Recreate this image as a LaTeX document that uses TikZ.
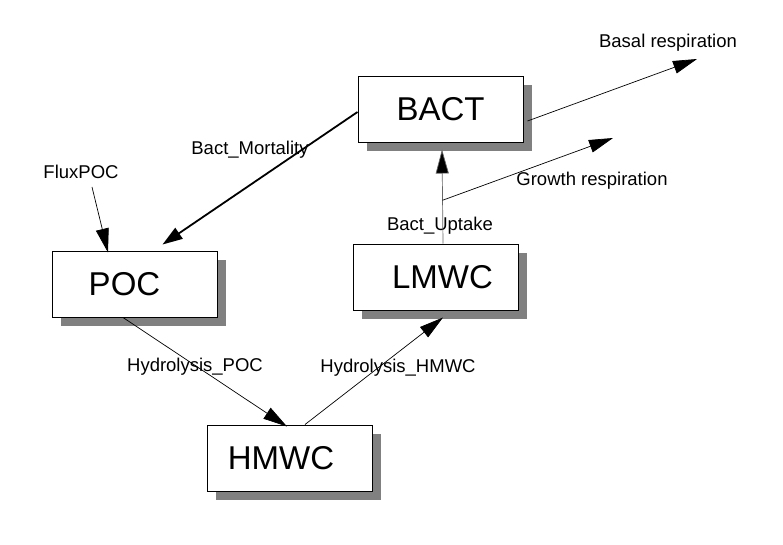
\documentclass[tikz,border=0pt]{standalone}
\usepackage{fontspec}
\setmainfont{Liberation Sans}
\usetikzlibrary{arrows.meta,shadows}
\begin{document}
\begin{tikzpicture}[x=1pt,y=-1pt,
  box/.style={draw=black,line width=1pt,fill=white,minimum width=165pt,minimum height=66pt,inner sep=0pt,
    font=\fontsize{33}{36}\selectfont,
    drop shadow={shadow xshift=9pt,shadow yshift=-9pt,fill=black!50,opacity=1}},
  lbl/.style={font=\fontsize{18.5}{21}\selectfont,inner sep=1pt},
  flow/.style={line width=0.7pt,-{Triangle[length=24pt,width=13pt]}},
  thick flow/.style={line width=1.8pt,-{Triangle[length=20pt,width=13pt]}}]
\useasboundingbox (0,0) rectangle (783,544);
\node[box] (bact) at (440.5,109) {BACT};
\node[box] (poc) at (134.5,284) {\hspace*{-20pt}POC};
\node[box] (hmwc) at (289.5,458) {\hspace*{-17pt}HMWC};
\node[box] (lmwc) at (435.5,277) {\hspace*{14pt}LMWC};
% labels
\node[lbl] (flux) at (81,172) {FluxPOC};
\node[lbl] (lmort) at (250,150) {Bact\_Mortality};
\node[lbl] (lhpoc) at (195,367) {Hydrolysis\_POC};
\node[lbl] (lhhmwc) at (398,368) {Hydrolysis\_HMWC};
\node[lbl] (lupt) at (440,226) {Bact\_Uptake};
\node[lbl] (lgrow) at (592,181) {Growth respiration};
\node[lbl] (lbasal) at (668,43) {Basal respiration};
% free ends
\coordinate (growend) at (613,138);
\coordinate (basalend) at (697,59);
% connectors
\draw[thick flow] ([yshift=-3pt]bact.west) -- ([xshift=28pt,yshift=6pt]poc.north);
\draw[flow] ([xshift=11pt,yshift=-7pt]flux.south) -- ([xshift=-26.5pt,yshift=-2pt]poc.north);
\draw[flow] ([xshift=-11.5pt]poc.south) -- ([xshift=-2.5pt,yshift=-2pt]hmwc.north);
\draw[flow] ([xshift=15.5pt]hmwc.north) -- ([xshift=7.5pt,yshift=-7pt]lmwc.south);
\draw[flow,draw=black!60,-{Triangle[length=24pt,width=13pt,fill=black]}] ([xshift=7.5pt]lmwc.north) -- coordinate[pos=0.46] (gstart) ([xshift=1.5pt,yshift=-7pt]bact.south);
\draw[flow] (gstart) -- (growend);
\draw[flow] ([xshift=4pt,yshift=-12pt]bact.east) -- (basalend);
\end{tikzpicture}
\end{document}
